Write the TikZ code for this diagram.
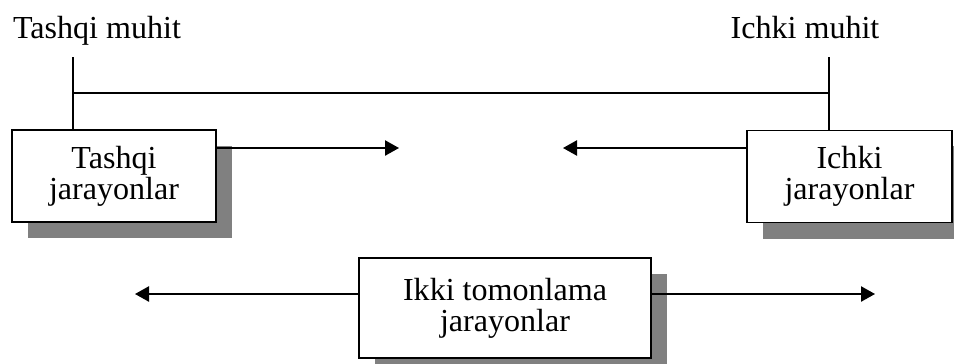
\documentclass[tikz,border=0pt]{standalone}
\usepackage{fontspec}
\setmainfont{Liberation Serif}
\usetikzlibrary{arrows.meta}
\usetikzlibrary{shadows}
\tikzstyle{proc}=[draw,line width=1.3pt,fill=white,align=center,font=\fontsize{22.8}{22}\selectfont,drop shadow={shadow xshift=.4cm,shadow yshift=-.4cm,fill=gray,opacity=1}]
\tikzstyle{muhit}=[font=\fontsize{22.8}{22}\selectfont,anchor=base]
\tikzstyle{link}=[line width=1pt]
\tikzstyle{flow}=[line width=1.3pt,-{Triangle[length=.35cm,width=.38cm]}]
\begin{document}
\begin{tikzpicture}[x=.025cm,y=-.025cm]
	\useasboundingbox (0,0) rectangle (954,363);
	\node[muhit] (tm) at (97,38) {Tashqi muhit};
	\node[muhit] (im) at (805,38) {Ichki muhit};
	\node[proc,minimum width=5.1cm,minimum height=2.3cm] (tj) at (114,176) {Tashqi\\jarayonlar};
	\node[proc,minimum width=5.125cm,minimum height=2.3cm] (ij) at (849.5,176.5) {Ichki\\jarayonlar};
	\node[proc,minimum width=7.3cm,minimum height=2.5cm] (kj) at (505,308) {Ikki tomonlama\\jarayonlar};
	\coordinate (tl) at (73,57);
	\coordinate (il) at (829,57);
	\coordinate (tb) at (73,93);
	\coordinate (ib) at (829,93);
	\draw[link] (tl) -- (tl |- tj.north);
	\draw[link] (il) -- (il |- ij.north);
	\draw[link] (tb) -- (ib);
	\coordinate (a1) at (399,148);
	\coordinate (a2) at (563,148);
	\coordinate (a3) at (135,294);
	\coordinate (a4) at (875,294);
	\draw[flow] (tj.east |- a1) -- (a1);
	\draw[flow] (ij.west |- a2) -- (a2);
	\draw[flow] (kj.west |- a3) -- (a3);
	\draw[flow] (kj.east |- a4) -- (a4);
\end{tikzpicture}
\end{document}
